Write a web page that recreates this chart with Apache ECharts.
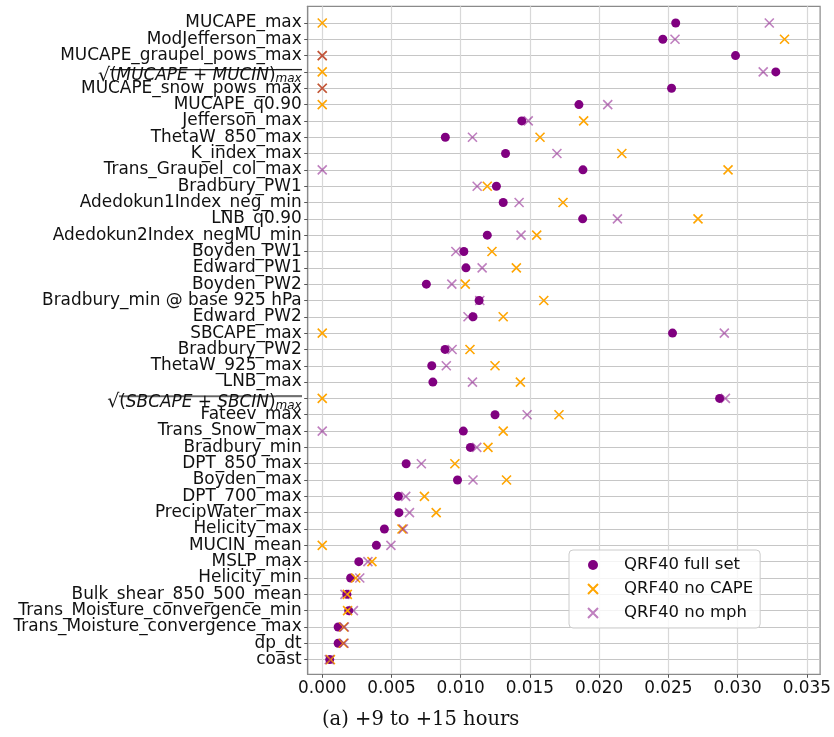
<!DOCTYPE html>
<html>
<head>
<meta charset="utf-8">
<script src="https://cdn.jsdelivr.net/npm/echarts@6/dist/echarts.min.js"></script>
<style>
  html, body { margin: 0; padding: 0; background: #ffffff; }
  #chart { width: 834px; height: 737px; }
</style>
</head>
<body>
<div id="chart"></div>
<script>
// Predictor names, top to bottom
const features = [
  'MUCAPE_max', 'ModJefferson_max', 'MUCAPE_graupel_pows_max', 'SQRT_MUCAPE_MUCIN_max',
  'MUCAPE_snow_pows_max', 'MUCAPE_q0.90', 'Jefferson_max', 'ThetaW_850_max', 'K_index_max',
  'Trans_Graupel_col_max', 'Bradbury_PW1', 'Adedokun1Index_neg_min', 'LNB_q0.90',
  'Adedokun2Index_negMU_min', 'Boyden_PW1', 'Edward_PW1', 'Boyden_PW2',
  'Bradbury_min @ base 925 hPa', 'Edward_PW2', 'SBCAPE_max', 'Bradbury_PW2', 'ThetaW_925_max',
  'LNB_max', 'SQRT_SBCAPE_SBCIN_max', 'Fateev_max', 'Trans_Snow_max', 'Bradbury_min',
  'DPT_850_max', 'Boyden_max', 'DPT_700_max', 'PrecipWater_max', 'Helicity_max', 'MUCIN_mean',
  'MSLP_max', 'Helicity_min', 'Bulk_shear_850_500_mean', 'Trans_Moisture_convergence_min',
  'Trans_Moisture_convergence_max', 'dp_dt', 'coast'
];

// Feature importance per model
const fullSet = [
  0.02553, 0.02460, 0.02985, 0.03276, 0.02523, 0.01854, 0.01441, 0.00889, 0.01324, 0.01883,
  0.01258, 0.01307, 0.01881, 0.01192, 0.01023, 0.01038, 0.00752, 0.01133, 0.01089, 0.02530,
  0.00887, 0.00791, 0.00799, 0.02870, 0.01248, 0.01019, 0.01070, 0.00606, 0.00977, 0.00550,
  0.00554, 0.00449, 0.00391, 0.00264, 0.00205, 0.00178, 0.00191, 0.00115, 0.00115, 0.00054
];
const noCape = [
  0.00000, 0.03339, 0.00000, 0.00000, 0.00000, 0.00000, 0.01888, 0.01573, 0.02164, 0.02931,
  0.01192, 0.01739, 0.02714, 0.01549, 0.01226, 0.01402, 0.01033, 0.01600, 0.01307, 0.00000,
  0.01067, 0.01248, 0.01431, 0.00000, 0.01710, 0.01307, 0.01197, 0.00958, 0.01331, 0.00738,
  0.00823, 0.00576, 0.00000, 0.00359, 0.00242, 0.00181, 0.00183, 0.00155, 0.00152, 0.00059
];
const noMph = [
  0.03229, 0.02548, 0.00000, 0.03185, 0.00000, 0.02062, 0.01488, 0.01085, 0.01695, 0.00000,
  0.01119, 0.01422, 0.02132, 0.01436, 0.00965, 0.01155, 0.00936, 0.01138, 0.01053, 0.02904,
  0.00938, 0.00896, 0.01085, 0.02912, 0.01480, 0.00000, 0.01116, 0.00716, 0.01089, 0.00603,
  0.00630, 0.00586, 0.00496, 0.00330, 0.00271, 0.00164, 0.00225, 0.00160, 0.00158, 0.00051
];

const seriesNames = ['QRF40 full set', 'QRF40 no CAPE', 'QRF40 no mph'];
const xTicks = [0, 0.005, 0.010, 0.015, 0.020, 0.025, 0.030, 0.035];
const caption = '(a) +9 to +15 hours';

// Square-root labels written as rich text
const mathLabels = {
  'SQRT_MUCAPE_MUCIN_max': '{sq|√}{up|(}{it|MUCAPE}{up| + }{it|MUCIN}{up|)}{sub|max}',
  'SQRT_SBCAPE_SBCIN_max': '{sq|√}{up|(}{it|SBCAPE}{up| + }{it|SBCIN}{up|)}{sub|max}'
};

const LABEL_FONT = 'DejaVu Sans';
const LABEL_SIZE = 16.9;
const LABEL_MARGIN = 6;
const TEXT_COLOR = '#111111';

// Thin stroke stretched behind the radicand as the vinculum
function vinculum(h, y) {
  const c = document.createElement('canvas');
  c.width = 1; c.height = h;
  const g = c.getContext('2d');
  g.fillStyle = TEXT_COLOR;
  g.fillRect(0, y, 1, 1);
  g.fillStyle = 'rgba(17,17,17,0.3)';
  g.fillRect(0, y + 1, 1, 1);
  return c;
}
const bar = { image: vinculum(26, 10) };

const rich = {
  sq: { fontFamily: LABEL_FONT, fontSize: 19, fill: TEXT_COLOR, lineHeight: 18, padding: [8, 0, 0, 0] },
  up: { fontFamily: LABEL_FONT, fontSize: LABEL_SIZE, fill: TEXT_COLOR, lineHeight: 18, padding: [8, 0, 0, 0], backgroundColor: bar },
  it: { fontFamily: LABEL_FONT, fontSize: LABEL_SIZE, fontStyle: 'italic', fill: TEXT_COLOR, lineHeight: 18, padding: [8, 0, 0, 0], backgroundColor: bar },
  sub: { fontFamily: LABEL_FONT, fontSize: 12, fontStyle: 'italic', fill: TEXT_COLOR, lineHeight: 12, padding: [14, 0, 0, 0], backgroundColor: bar }
};

const crossPath = 'path://M0,0L10,10M10,0L0,10';
const rowIndex = features.map((_, i) => i);
// padded with blank entries at both ends so no row label is dropped as an edge label
const labelValues = [-1].concat(rowIndex, [39.85]);

const chart = echarts.init(document.getElementById('chart'), null, { renderer: 'canvas' });

chart.setOption({
  animation: false,
  backgroundColor: '#ffffff',
  title: {
    text: caption, left: 322, top: 710, padding: 0,
    textStyle: { fontFamily: 'DejaVu Serif', fontSize: 19.5, fontWeight: 'normal', color: TEXT_COLOR }
  },
  grid: {
    left: 307.7, right: 11.3, top: 6.3, bottom: 62.7,
    show: true, borderColor: '#8a8a8a', borderWidth: 1.2, backgroundColor: 'transparent'
  },
  legend: {
    orient: 'vertical', left: 569, top: 550, padding: [6, 7, 6, 18], itemGap: 6,
    itemWidth: 10, itemHeight: 10,
    borderColor: '#cccccc', borderWidth: 1, borderRadius: 4, backgroundColor: 'rgba(255,255,255,0.8)',
    textStyle: { fontFamily: LABEL_FONT, fontSize: 16.5, color: TEXT_COLOR, lineHeight: 18, padding: [0, 0, 0, 21] },
    data: seriesNames
  },
  xAxis: {
    type: 'value', min: -0.00105, max: 0.03596,
    axisLine: { show: true, onZero: false, lineStyle: { color: '#8a8a8a', width: 1.2 } },
    axisTick: { show: true, customValues: xTicks, length: 3.5, lineStyle: { color: '#555555' } },
    axisLabel: {
      customValues: xTicks, formatter: v => v.toFixed(3),
      fontFamily: LABEL_FONT, fontSize: LABEL_SIZE, color: TEXT_COLOR, margin: LABEL_MARGIN
    },
    splitLine: { show: true, lineStyle: { color: '#d8d8d8', width: 1.2 } }
  },
  yAxis: {
    type: 'value', inverse: true, min: -1.02, max: 39.9,
    axisLine: { show: true, onZero: false, lineStyle: { color: '#8a8a8a', width: 1.2 } },
    axisTick: { show: true, customValues: rowIndex, length: 3.5, lineStyle: { color: '#555555' } },
    axisLabel: {
      customValues: labelValues,
      formatter: v => {
        if (Math.abs(v - Math.round(v)) > 1e-6) return '';
        const name = features[Math.round(v)];
        if (name === undefined || mathLabels[name]) return '';
        return name;
      },
      fontFamily: LABEL_FONT, fontSize: LABEL_SIZE, lineHeight: 12, color: TEXT_COLOR, margin: LABEL_MARGIN
    },
    splitLine: { show: true, lineStyle: { color: '#c6c6c6', width: 1.2 } }
  },
  series: [
    {
      name: seriesNames[0], type: 'scatter', symbol: 'circle', symbolSize: 9,
      itemStyle: { color: '#800080', opacity: 1 },
      data: fullSet.map((v, i) => [v, i]), z: 3
    },
    {
      name: seriesNames[1], type: 'scatter', symbol: crossPath, symbolSize: 9,
      itemStyle: { color: '#FFA500', borderColor: '#FFA500', borderWidth: 1.6, opacity: 1 },
      data: noCape.map((v, i) => [v, i]), z: 4
    },
    {
      name: seriesNames[2], type: 'scatter', symbol: crossPath, symbolSize: 9,
      itemStyle: { color: '#800080', borderColor: '#800080', borderWidth: 1.6, opacity: 0.5 },
      data: noMph.map((v, i) => [v, i]), z: 5
    }
  ]
});

// Square-root row labels, right-aligned beside the axis at their rows
const labelRight = chart.convertToPixel({ xAxisIndex: 0 }, -0.00105) - LABEL_MARGIN;
const mathTexts = [];
features.forEach((name, i) => {
  if (!mathLabels[name]) return;
  mathTexts.push({
    type: 'text', silent: true, z: 50,
    x: labelRight,
    y: chart.convertToPixel({ yAxisIndex: 0 }, i),
    style: {
      text: mathLabels[name], rich: rich,
      fontFamily: LABEL_FONT, fontSize: LABEL_SIZE, fill: TEXT_COLOR,
      align: 'right', verticalAlign: 'middle'
    }
  });
});
chart.setOption({ graphic: mathTexts });
</script>
</body>
</html>
